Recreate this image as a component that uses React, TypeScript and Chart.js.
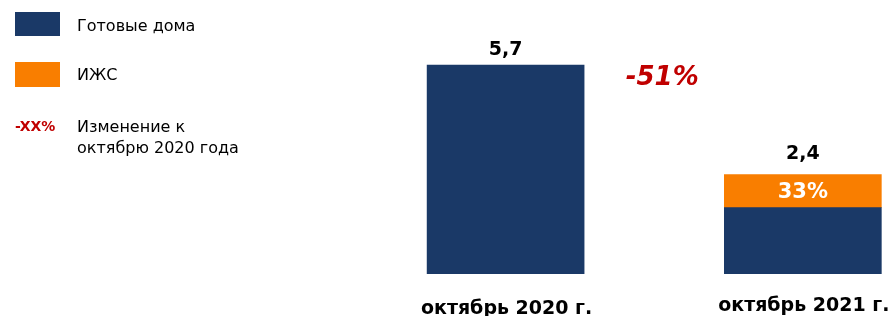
import React, { useEffect, useRef } from "react";
import { Chart, registerables } from "chart.js";

Chart.register(...registerables);

const categories = ["октябрь 2020 г.", "октябрь 2021 г."];
const readyHouses = [5.7, 1.4];
const izhs: (number | null)[] = [null, 1.0];
const totalLabels = ["5,7", "2,4"];
const shareLabels = ["", "33%"];
const changeLabel = "-51%";
const legendNames = ["Готовые дома", "ИЖС"];
const changeLegend = ["Изменение к", "октябрю 2020 года"];

const NAVY = "#1a3967";
const ORANGE = "#f97e00";
const RED = "#c00000";
const FONT = "'DejaVu Sans', Verdana, sans-serif";
const AXIS_MIN = -0.6;
const TOTAL_GAP = [10, 16];
const CAT_BASELINE = [40, 37];

const labelsPlugin = {
  id: "labelsPlugin",
  afterDatasetsDraw(chart: any) {
    const { ctx, scales, chartArea } = chart;
    const x = scales.x;
    const y = scales.y;
    ctx.save();
    ctx.textAlign = "center";
    categories.forEach((cat, i) => {
      const total = (readyHouses[i] || 0) + (izhs[i] || 0);
      const px = x.getPixelForValue(i);
      ctx.fillStyle = "#000";
      ctx.textBaseline = "alphabetic";
      ctx.font = `bold 19px ${FONT}`;
      ctx.fillText(cat, px + 1, chartArea.bottom + CAT_BASELINE[i]);
      ctx.font = `bold 19px ${FONT}`;
      ctx.fillText(totalLabels[i], px, y.getPixelForValue(total) - TOTAL_GAP[i]);
      if (shareLabels[i] && izhs[i] != null) {
        const base = readyHouses[i];
        const mid = (y.getPixelForValue(base) + y.getPixelForValue(total)) / 2;
        ctx.fillStyle = "#fff";
        ctx.font = `bold 21px ${FONT}`;
        ctx.textBaseline = "middle";
        ctx.fillText(shareLabels[i], px, mid + 1);
      }
    });
    ctx.fillStyle = RED;
    ctx.font = `italic bold 26px ${FONT}`;
    ctx.textBaseline = "middle";
    ctx.fillText(changeLabel, x.getPixelForValue(0.527), y.getPixelForValue(5.29));
    ctx.restore();
  },
};

export default function App() {
  const ref = useRef<HTMLCanvasElement>(null);
  useEffect(() => {
    document.body.style.margin = "0";
    const chart = new Chart(ref.current!, {
      type: "bar",
      data: {
        datasets: [
          {
            label: legendNames[0],
            data: readyHouses.map((v, i) => ({ x: i, y: v })),
            backgroundColor: NAVY,
            base: AXIS_MIN,
            barThickness: 157,
          } as any,
          {
            label: legendNames[1],
            data: izhs.map((v, i) => ({ x: i, y: v })),
            backgroundColor: ORANGE,
            barThickness: 157,
          } as any,
        ],
      },
      options: {
        animation: false,
        responsive: false,
        layout: { padding: { left: 357, right: 3, top: 22, bottom: 42 } },
        plugins: { legend: { display: false }, tooltip: { enabled: false } },
        scales: {
          x: {
            type: "linear",
            display: false,
            min: -0.5,
            max: 1.3,
            offset: false,
            stacked: true,
          },
          y: {
            display: false,
            stacked: true,
            min: AXIS_MIN,
            max: 7,
          },
        },
      },
      plugins: [labelsPlugin],
    });
    return () => chart.destroy();
  }, []);

  const textStyle: React.CSSProperties = {
    position: "absolute",
    left: 77,
    fontFamily: FONT,
    fontSize: 16,
    color: "#000",
    lineHeight: "21px",
  };

  return (
    <div style={{ position: "relative", width: 895, height: 316 }}>
      <canvas ref={ref} width={895} height={316} style={{ display: "block" }} />
      <div style={{ position: "absolute", left: 15, top: 12, width: 45, height: 24, background: NAVY }} />
      <div style={{ ...textStyle, top: 15 }}>{legendNames[0]}</div>
      <div style={{ position: "absolute", left: 15, top: 62, width: 45, height: 25, background: ORANGE }} />
      <div style={{ ...textStyle, top: 64 }}>{legendNames[1]}</div>
      <div
        style={{
          position: "absolute",
          left: 15,
          top: 118,
          fontFamily: FONT,
          fontSize: 14,
          fontWeight: "bold",
          color: RED,
        }}
      >
        -XX%
      </div>
      <div style={{ ...textStyle, top: 116 }}>
        {changeLegend[0]}
        <br />
        {changeLegend[1]}
      </div>
    </div>
  );
}
